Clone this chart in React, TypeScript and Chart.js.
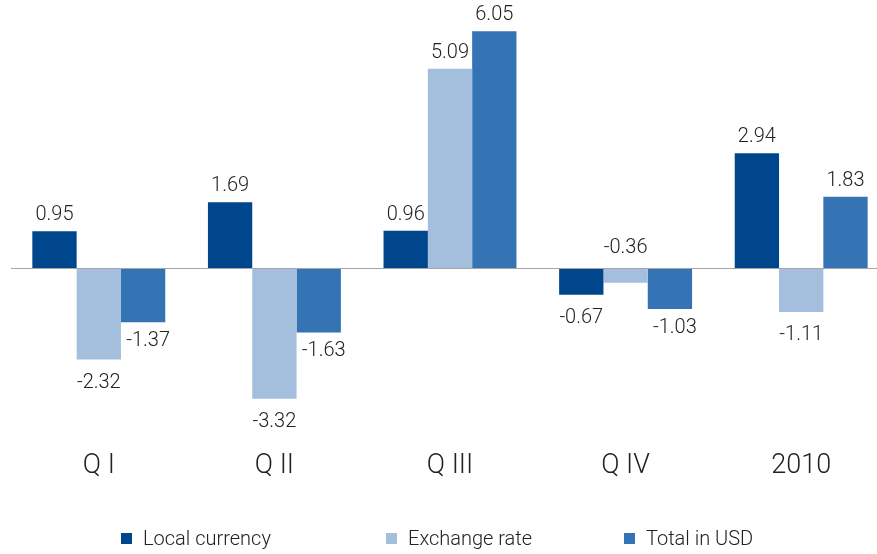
import React, { useEffect, useRef } from "react";
import { Chart, registerables } from "chart.js";

Chart.register(...registerables);

const categories = ["Q I", "Q II", "Q III", "Q IV", "2010"];
const seriesNames = ["Local currency", "Exchange rate", "Total in USD"];
const localCurrency = [0.95, 1.69, 0.96, -0.67, 2.94];
const exchangeRate = [-2.32, -3.32, 5.09, -0.36, -1.11];
const totalInUsd = [-1.37, -1.63, 6.05, -1.03, 1.83];
const colors = ["#00468C", "#A3BFDD", "#3474B5"];
const legendLefts = [121, 386, 624];

const FONT = "Roboto, 'Noto Sans', sans-serif";
const TEXT = "#222222";

const valueLabels = {
  id: "valueLabels",
  afterDatasetsDraw(chart: any) {
    const ctx = chart.ctx;
    ctx.save();
    ctx.font = `300 20px ${FONT}`;
    ctx.fillStyle = TEXT;
    ctx.textAlign = "center";
    ctx.textBaseline = "alphabetic";
    chart.data.datasets.forEach((ds: any, di: number) => {
      const meta = chart.getDatasetMeta(di);
      meta.data.forEach((bar: any, i: number) => {
        const v = ds.data[i] as number;
        const txt = v.toFixed(2);
        if (v >= 0) {
          ctx.fillText(txt, bar.x, bar.y - 11);
        } else if (Math.abs(v) < 0.5) {
          ctx.fillText(txt, bar.x, bar.base - 16);
        } else if (di === 2) {
          ctx.fillText(txt, bar.x + 5, bar.y + 24);
        } else {
          ctx.fillText(txt, bar.x, bar.y + 28);
        }
      });
    });
    ctx.restore();
  },
};

export default function App() {
  const ref = useRef<HTMLCanvasElement | null>(null);
  useEffect(() => {
    if (!ref.current) return;
    const chart = new Chart(ref.current, {
      type: "bar",
      data: {
        labels: categories,
        datasets: [localCurrency, exchangeRate, totalInUsd].map((d, i) => ({
          label: seriesNames[i],
          data: d,
          backgroundColor: colors[i],
          borderWidth: 0,
          categoryPercentage: 0.757,
          barPercentage: 1,
        })),
      },
      options: {
        responsive: false,
        animation: false,
        layout: { padding: { left: 11, right: 0, top: 10, bottom: 65 } },
        plugins: { legend: { display: false }, tooltip: { enabled: false } },
        scales: {
          x: {
            afterFit: (s: any) => {
              s.height = 40;
            },
            grid: { display: false, drawTicks: false },
            border: { display: false },
            ticks: { font: { family: FONT, size: 27, weight: "300" }, color: TEXT, padding: 1 },
          },
          y: {
            min: -4.6,
            max: 6.59,
            afterFit: (s: any) => {
              s.width = 0;
            },
            afterBuildTicks: (s: any) => {
              s.ticks = [{ value: 0 }];
            },
            ticks: { display: false },
            border: { display: false },
            grid: {
              drawTicks: false,
              color: "#A6A6A6",
              lineWidth: 1,
            },
          },
        },
      },
      plugins: [valueLabels],
    });
    return () => chart.destroy();
  }, []);

  return (
    <div
      style={{
        position: "absolute",
        left: 0,
        top: 0,
        width: 877,
        height: 554,
        overflow: "hidden",
        background: "#fff",
      }}
    >
      <canvas ref={ref} width={889} height={554} style={{ display: "block" }} />
      {seriesNames.map((name, i) => (
        <div
          key={name}
          style={{
            position: "absolute",
            left: legendLefts[i],
            top: 526,
            height: 24,
            display: "flex",
            alignItems: "center",
            fontFamily: FONT,
            fontWeight: 300,
            fontSize: 20,
            color: TEXT,
            whiteSpace: "nowrap",
          }}
        >
          <span
            style={{
              display: "inline-block",
              width: 11,
              height: 11,
              background: colors[i],
              marginRight: 11,
            }}
          />
          <span>{name}</span>
        </div>
      ))}
    </div>
  );
}
